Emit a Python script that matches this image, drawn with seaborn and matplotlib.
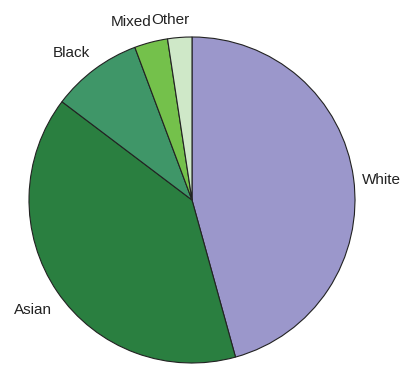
import matplotlib
matplotlib.use("Agg")
import matplotlib.pyplot as plt
import seaborn as sns

# Ethnic group shares (%)
groups = ["White", "Asian", "Black", "Mixed", "Other"]
shares = [45.7, 39.6, 9.0, 3.3, 2.4]
colors = ["#9b97cb", "#2a7f40", "#3f9668", "#74c14b", "#cfe8c8"]

sns.set_theme(style="white")
plt.rcParams["font.family"] = ["Liberation Sans", "DejaVu Sans"]

fig = plt.figure(figsize=(4.02, 3.65), dpi=100)
ax = fig.add_axes([0, 0, 1, 1])

palette = sns.color_palette(colors)
wedges, texts = ax.pie(
    shares,
    labels=groups,
    colors=palette,
    startangle=90,
    counterclock=False,
    labeldistance=1.1,
    wedgeprops=dict(edgecolor="#222222", linewidth=0.8),
    textprops=dict(fontsize=11, color="#222222"),
)
# nudge labels (in pixels, right / down) so they sit like the reference
px = 163.0
nudges = [(-8, 4), (8, 9), (5, -3), (5, -4), (-8, -1)]
for t, (dx, dy) in zip(texts, nudges):
    x, y = t.get_position()
    t.set_position((x + dx / px, y - dy / px))
texts[-1].set_ha("center")

# keep the circle where it sits in the reference (163 px per unit both ways)
ax.set_aspect("auto")
ax.set_xlim(-192 / px, 210 / px)
ax.set_ylim(-165 / px, 200 / px)
ax.axis("off")

fig.savefig("out.png", dpi=100)
plt.close(fig)
